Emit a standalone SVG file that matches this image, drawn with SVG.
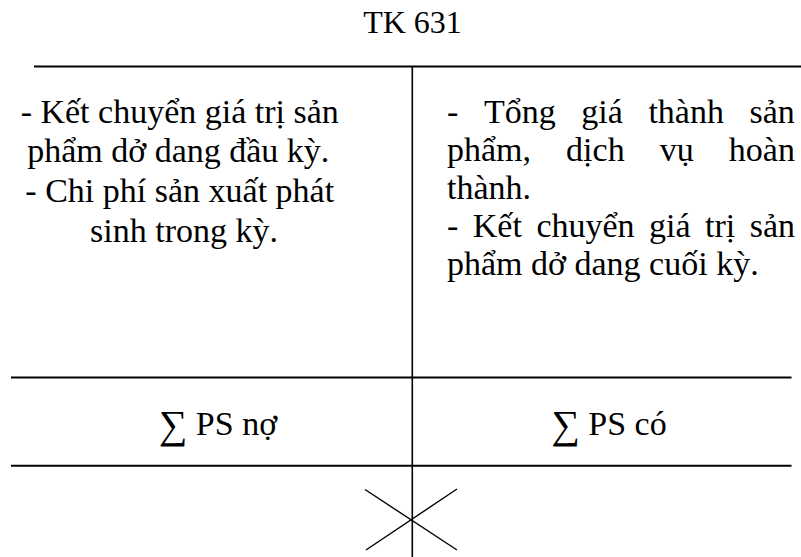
<svg xmlns="http://www.w3.org/2000/svg" width="801" height="557" viewBox="0 0 801 557">
  <style>
    .t { font-family: "Liberation Serif", "Times New Roman", serif; fill: #000; }
    .body { font-size: 34px; }
    .title { font-size: 32px; }
    .sig { font-size: 40px; }
    .ln { stroke: #000; fill: none; }
  </style>
  <rect x="0" y="0" width="801" height="557" fill="#fff"/>

  <g id="connectors">
    <line class="ln" x1="34" y1="66.5" x2="801" y2="66.5" stroke-width="2"/>
    <line class="ln" x1="412.3" y1="66" x2="412.3" y2="557" stroke-width="1.6"/>
    <line class="ln" x1="11" y1="377.5" x2="791.5" y2="377.5" stroke-width="2"/>
    <line class="ln" x1="11" y1="465.7" x2="791.5" y2="465.7" stroke-width="2"/>
    <line class="ln" x1="365" y1="489.5" x2="457" y2="550" stroke-width="1.4"/>
    <line class="ln" x1="366" y1="550" x2="457" y2="489" stroke-width="1.4"/>
  </g>

  <g id="title">
    <text class="t title" x="412.5" y="32.7" text-anchor="middle">TK 631</text>
  </g>

  <g id="debit">
    <text class="t body" text-anchor="middle">
      <tspan x="184" y="122.5">- Kết chuyển giá trị sản</tspan>
      <tspan x="182.5" y="162.3">phẩm dở dang đầu kỳ.</tspan>
      <tspan x="184" y="202">- Chi phí sản xuất phát</tspan>
      <tspan x="184" y="241.8">sinh trong kỳ.</tspan>
    </text>
  </g>

  <g id="credit">
    <text class="t body">
      <tspan x="447" y="123.3">-</tspan><tspan x="483.9" y="123.3">Tổng</tspan><tspan x="581.3" y="123.3">giá</tspan><tspan x="648.4" y="123.3">thành</tspan><tspan x="749.5" y="123.3">sản</tspan>
    </text>
    <text class="t body">
      <tspan x="447" y="161.2">phẩm,</tspan><tspan x="566.1" y="161.2">dịch</tspan><tspan x="659.7" y="161.2">vụ</tspan><tspan x="728.8" y="161.2">hoàn</tspan>
    </text>
    <text class="t body" x="447" y="199.1">thành.</text>
    <text class="t body">
      <tspan x="447" y="237">-</tspan><tspan x="472.8" y="237">Kết</tspan><tspan x="536.4" y="237">chuyển</tspan><tspan x="649.1" y="237">giá</tspan><tspan x="705.1" y="237">trị</tspan><tspan x="749.8" y="237">sản</tspan>
    </text>
    <text class="t body" x="447" y="274.9">phẩm dở dang cuối kỳ.</text>
  </g>

  <g id="total-debit">
    <text class="t body" x="218" y="434.5" text-anchor="middle"><tspan class="sig" dy="3">∑</tspan><tspan dy="-3"> PS nợ</tspan></text>
  </g>
  <g id="total-credit">
    <text class="t body" x="609" y="434.5" text-anchor="middle"><tspan class="sig" dy="3">∑</tspan><tspan dy="-3"> PS có</tspan></text>
  </g>
</svg>
